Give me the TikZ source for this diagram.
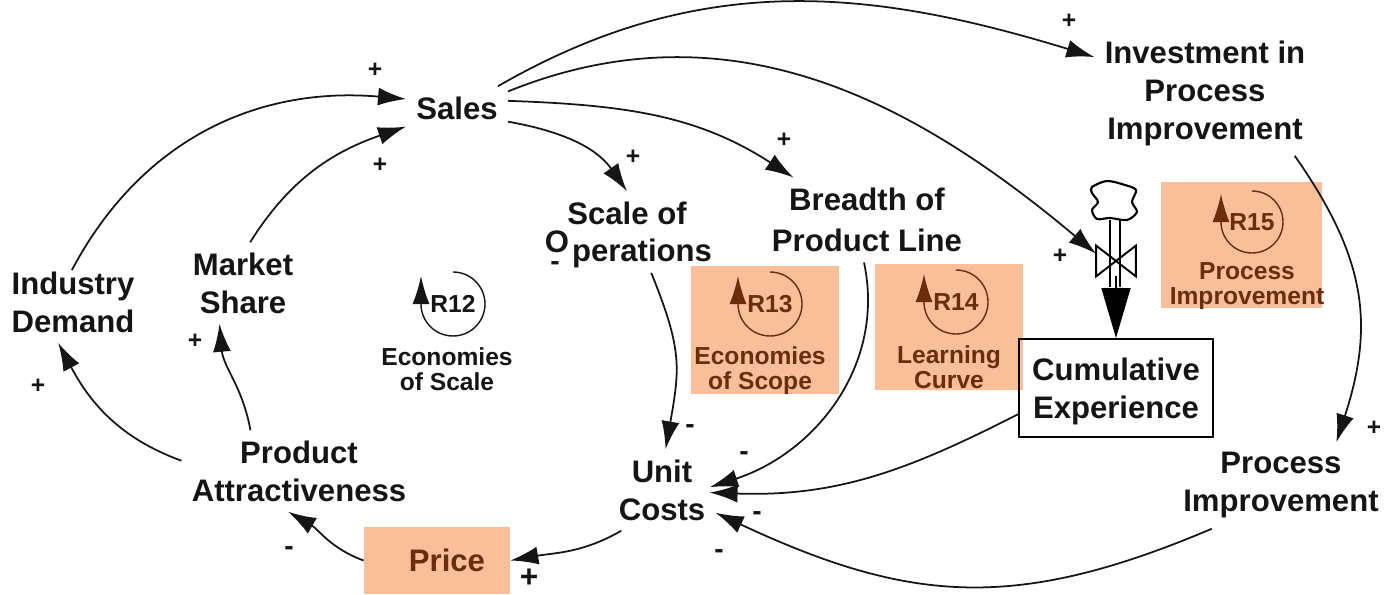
\documentclass[tikz,border=0pt]{standalone}
\usepackage{xcolor}
\usepackage{fontspec}
\setmainfont{Liberation Sans}
\usepackage{tikz}
\usetikzlibrary{arrows.meta}
\definecolor{patch}{HTML}{F9BF99}
\definecolor{brownink}{HTML}{6B2D0C}
\definecolor{ink}{HTML}{151515}
\tikzset{
  var/.style={align=center, inner sep=0.2cm, text=ink, font=\fontsize{17.7}{21.6}\selectfont\bfseries},
  small/.style={align=center, inner sep=0pt, font=\fontsize{14}{14.4}\selectfont\bfseries},
  patchbox/.style={rectangle, fill=patch, inner sep=0pt},
  sign/.style={inner sep=0pt, text=ink, font=\fontsize{14}{14}\selectfont\bfseries},
  neg/.style={inner sep=0pt, text=ink, font=\fontsize{16}{16}\selectfont\bfseries},
  link/.style={-{Latex[length=0.56cm,width=0.36cm]}, draw=ink, line width=1pt},
  loopline/.style={-{Latex[length=0.56cm,width=0.34cm]}, line width=0.8pt}
}
\begin{document}
\begin{tikzpicture}
\useasboundingbox (0, 0) rectangle (27.7, 11.88);
\node [patchbox, minimum width=2.96cm, minimum height=2.56cm] (B13) at (15.30, 5.28) {};
\node [patchbox, minimum width=2.96cm, minimum height=2.52cm] (B14) at (18.98, 5.34) {};
\node [patchbox, minimum width=3.22cm, minimum height=2.52cm] (B15) at (24.83, 6.98) {};
\node [patchbox, minimum width=2.92cm, minimum height=1.34cm, text=brownink, font=\fontsize{17.7}{21.6}\selectfont\bfseries] (Price) at (8.74, 0.67) {\hspace*{0.4cm}Price};

\node [var] (Sales) at (9.14, 9.72) {Sales};
\node [var] (Scale) at (12.54, 7.62) {Scale of};
\node [var, inner sep=0pt] (O) at (11.14, 7.04) {O};
\node [var, inner sep=0.1cm] (Ops) at (12.84, 6.82) {perations};
\node [var] (Breadth) at (17.34, 7.48) {Breadth of\\[2pt]Product Line};
\node [var] (Share) at (4.86, 6.22) {Market\\Share};
\node [var] (Demand) at (1.46, 5.84) {Industry\\Demand};
\node [var] (Attract) at (5.98, 2.46) {Product\\Attractiveness};
\node [var] (Unit) at (13.24, 2.08) {Unit\\Costs};
\node [var, draw=black, line width=1.1pt, minimum width=3.88cm, minimum height=1.96cm, inner sep=0pt] (Cumul) at (22.32, 4.12) {\rule{0pt}{16.4pt}Cumulative\\Experience};
\node [var] (Invest) at (24.10, 10.02) {Investment in\\Process\\Improvement};
\node [var] (Improve) at (25.62, 2.17) {Process\\Improvement};

\node [inner sep=0pt, minimum width=0.9cm, minimum height=0.76cm] (Cloud) at (22.30, 7.88) {};
\node [inner sep=0pt, minimum width=0.78cm, minimum height=0.6cm] (Valve) at (22.32, 6.66) {};
\draw [line width=1.2pt, smooth cycle] plot coordinates {(21.84, 8.14) (22.14, 8.26) (22.50, 8.18) (22.72, 8.08) (22.64, 7.84) (22.74, 7.64) (22.54, 7.48) (22.20, 7.52) (21.94, 7.50) (21.84, 7.68) (21.96, 7.84) (21.84, 8.02)};
\draw [line width=1pt] (22.20, 7.48) to (22.20, 6.14);
\draw [line width=1pt] (22.40, 7.48) to (22.40, 6.14);
\draw [line width=1.1pt] (Valve.north east) to (Valve.south east) to (Valve.north west) to (Valve.south west) to cycle;
\draw [-{Triangle[length=1cm,width=0.58cm]}, line width=0.9pt] (Valve.south) to (Cumul.north);

\draw [link, shorten <=-0.2cm] (Demand.85) to [out=62, in=175] (Sales.170);
\draw [link] (Share.80) to [out=58, in=199] (Sales.200);
\draw [link] (Attract.175) to [out=160, in=-62] (Demand.-110);
\draw [link] (Attract.140) to [out=100, in=-85] (Share.-120);
\draw [link] (Price.west) to [out=160, in=-30] (Attract.-105);
\draw [link] (Unit.-135) to [out=210, in=10] (Price.east);
\draw [link] (Sales.-15) to [out=-10, in=125] (Scale.north);
\draw [link] (Sales.8) to [out=-2, in=147] (Breadth.150);
\draw [link] (Sales.28) to [out=30, in=163] (Invest.162);
\draw [link] (Sales.18) to [out=22, in=140] (Valve.160);
\draw [link, looseness=1.2] (Ops.-65) to [out=-68, in=80] (Unit.85);
\draw [link, shorten >=-0.12cm] (Breadth.-94) to [out=-78, in=18] (Unit.5);
\draw [link, shorten >=-0.12cm] (Cumul.195) to [out=207, in=-2] (Unit.-3);
\draw [link, looseness=1.1] (Improve.212) to [out=203, in=-25] (Unit.-23);
\draw [link, looseness=1.1] (Invest.-35) to [out=-55, in=72] (Improve.38);

\node [small, text=ink] (R12) at (9.06, 5.80) {R12};
\node [small, text=brownink] (R13) at (15.40, 5.80) {R13};
\node [small, text=brownink] (R14) at (19.12, 5.84) {R14};
\node [small, text=brownink] (R15) at (25.04, 7.44) {R15};
\draw [loopline, draw=ink] (R12.center) ++(0, 0.64) arc (90:-180:0.64) -- ++(0, 0.56);
\draw [loopline, draw=brownink] (R13.center) ++(0, 0.64) arc (90:-180:0.64) -- ++(0, 0.56);
\draw [loopline, draw=brownink] (R14.center) ++(0, 0.64) arc (90:-180:0.64) -- ++(0, 0.56);
\draw [loopline, draw=brownink] (R15.center) ++(0, 0.62) arc (90:-180:0.62) -- ++(0, 0.56);

\node [small, text=ink] (Scale2) at (8.94, 4.50) {Economies\\of Scale};
\node [small, text=brownink] (Scope) at (15.20, 4.47) {Economies\\of Scope};
\node [small, text=brownink] (Curve) at (18.98, 4.54) {Learning\\Curve};
\node [small, text=brownink] (Proc) at (24.94, 6.16) {Process\\Improvement};

\node [sign] (p1) at (7.50, 10.48) {+};
\node [sign] (p2) at (7.60, 8.58) {+};
\node [sign] (p3) at (12.66, 8.74) {+};
\node [sign] (p4) at (15.68, 9.08) {+};
\node [sign] (p5) at (21.38, 11.46) {+};
\node [sign] (p6) at (21.20, 6.76) {+};
\node [sign] (p7) at (3.90, 5.06) {+};
\node [sign] (p8) at (0.76, 4.16) {+};
\node [sign] (p9) at (27.48, 3.32) {+};
\node [sign, font=\fontsize{18}{18}\selectfont\bfseries] (p10) at (10.58, 0.32) {+};
\node [neg] (m1) at (5.78, 0.86) {-};
\node [neg] (m2) at (13.80, 3.30) {-};
\node [neg] (m3) at (14.88, 2.76) {-};
\node [neg] (m4) at (15.14, 1.56) {-};
\node [neg] (m5) at (14.38, 0.80) {-};
\node [neg] (m6) at (11.10, 6.56) {-};
\end{tikzpicture}
\end{document}
